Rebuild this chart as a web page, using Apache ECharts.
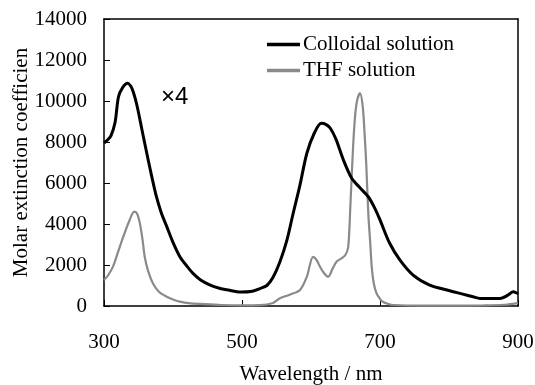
<!DOCTYPE html>
<html>
<head>
<meta charset="utf-8">
<script src="https://cdn.jsdelivr.net/npm/echarts@6/dist/echarts.min.js"></script>
<style>
html,body{margin:0;padding:0;background:#fff;}
#chart{width:535px;height:385px;}
</style>
</head>
<body>
<div id="chart"></div>
<script>
// Colloidal solution (wavelength nm, molar extinction coefficient)
var colloidalWl  = [300,305,310,316,321,327,334,340,347,355,362,369,376,383,391,400,410,420,429,440,454,466,480,498,515,526,536,545,555,565,574,584,594,605,615,622,628,636,647,659,670,683,692,700,714,729,748,772,797,820,835,845,860,874,886,893,899,900];
var colloidalVal = [7950,8100,8300,8950,10210,10650,10860,10650,9890,8600,7450,6350,5330,4550,3870,3100,2400,1950,1590,1270,1020,880,780,680,720,850,1000,1400,2160,3200,4500,5900,7450,8450,8910,8850,8670,8150,7120,6230,5800,5330,4800,4200,3060,2240,1510,1020,780,580,450,370,370,370,540,700,620,600];
// THF solution (x4)
var thfWl  = [300,306,313,320,328,336,344,348,352,356,359,364,371,380,391,400,410,425,440,470,500,526,545,555,570,584,594,603,608,613,619,625,631,637,644,650,654,657,661,664,667,671,675,678,680,683,686,688,691,695,700,704,712,720,760,800,850,880,895,900];
var thfVal = [1270,1500,1920,2600,3380,4100,4600,4500,4030,3200,2400,1700,1100,680,450,320,210,130,100,50,30,40,150,380,560,780,1430,2400,2250,1920,1600,1430,1800,2160,2320,2500,2890,4840,7770,9300,10050,10380,9720,8200,6980,4540,3000,1920,1100,620,350,210,100,50,20,20,30,60,120,150];
var xTicks = [300, 500, 700, 900];
var yTicks = [0,2000,4000,6000,8000,10000,12000,14000];

function pairs(xs, ys){ return xs.map(function(x,i){ return [x, ys[i]]; }); }

var serif = "'Liberation Serif','Times New Roman',serif";
var chart = echarts.init(document.getElementById('chart'), null, {renderer:'canvas'});
chart.setOption({
  animation: false,
  backgroundColor: '#ffffff',
  grid: {left:104, right:17, top:19, bottom:79, containLabel:false, outerBoundsMode:'none'},
  legend: {
    show: true,
    orient: 'vertical',
    left: 262,
    top: 29,
    itemWidth: 33,
    itemHeight: 14,
    itemGap: 5,
    textStyle: {fontFamily: serif, fontSize: 21, color:'#000', padding:[0,0,0,-2]},
    data: [
      {name:'Colloidal solution', icon:'path://M0,0 L10,0 L10,1 L0,1 Z'},
      {name:'THF solution', icon:'path://M0,0 L10,0 L10,1 L0,1 Z'}
    ]
  },
  xAxis: [{
    type:'value', min:300, max:900, interval:200,
    name:'Wavelength / nm', nameLocation:'middle', nameGap:58, nameMoveOverlap:false,
    nameTextStyle:{fontFamily:serif, fontSize:21, color:'#000'},
    axisLine:{show:true, onZero:false, lineStyle:{color:'#000', width:1.5}},
    axisTick:{show:true, inside:true, length:6, lineStyle:{color:'#000'}},
    axisLabel:{fontFamily:serif, fontSize:21, color:'#000', margin:26, formatter:function(v){return String(v);}},
    splitLine:{show:false}
  },{
    type:'value', min:300, max:900, position:'top',
    axisLine:{show:true, onZero:false, lineStyle:{color:'#000', width:1.5}},
    axisTick:{show:false}, axisLabel:{show:false}, splitLine:{show:false}
  }],
  yAxis: [{
    type:'value', min:0, max:14000, interval:2000,
    name:'Molar extinction coefficien', nameLocation:'middle', nameGap:72, nameRotate:90, nameMoveOverlap:false,
    nameTextStyle:{fontFamily:serif, fontSize:21, color:'#000'},
    axisLine:{show:true, onZero:false, lineStyle:{color:'#000', width:1.5}},
    axisTick:{show:true, inside:true, length:6, lineStyle:{color:'#000'}},
    axisLabel:{fontFamily:serif, fontSize:21, color:'#000', margin:17, formatter:function(v){return String(v);}},
    splitLine:{show:false}
  },{
    type:'value', min:0, max:14000, position:'right',
    axisLine:{show:true, onZero:false, lineStyle:{color:'#000', width:1.5}},
    axisTick:{show:false}, axisLabel:{show:false}, splitLine:{show:false}
  }],
  graphic: [{
    type:'text', left:161, top:85,
    style:{text:'\u00d74', fontFamily:"'Liberation Sans',Arial,sans-serif", fontSize:24, fill:'#000'}
  }],
  series: [{
    name:'Colloidal solution', type:'line', symbol:'none', smooth:0.3,
    data: pairs(colloidalWl, colloidalVal),
    lineStyle:{color:'#000', width:3}, itemStyle:{color:'#000'}, z:3
  },{
    name:'THF solution', type:'line', symbol:'none', smooth:0.3,
    data: pairs(thfWl, thfVal),
    lineStyle:{color:'#8a8a8a', width:2.2}, itemStyle:{color:'#8a8a8a'}, z:2
  }]
});
</script>
</body>
</html>
